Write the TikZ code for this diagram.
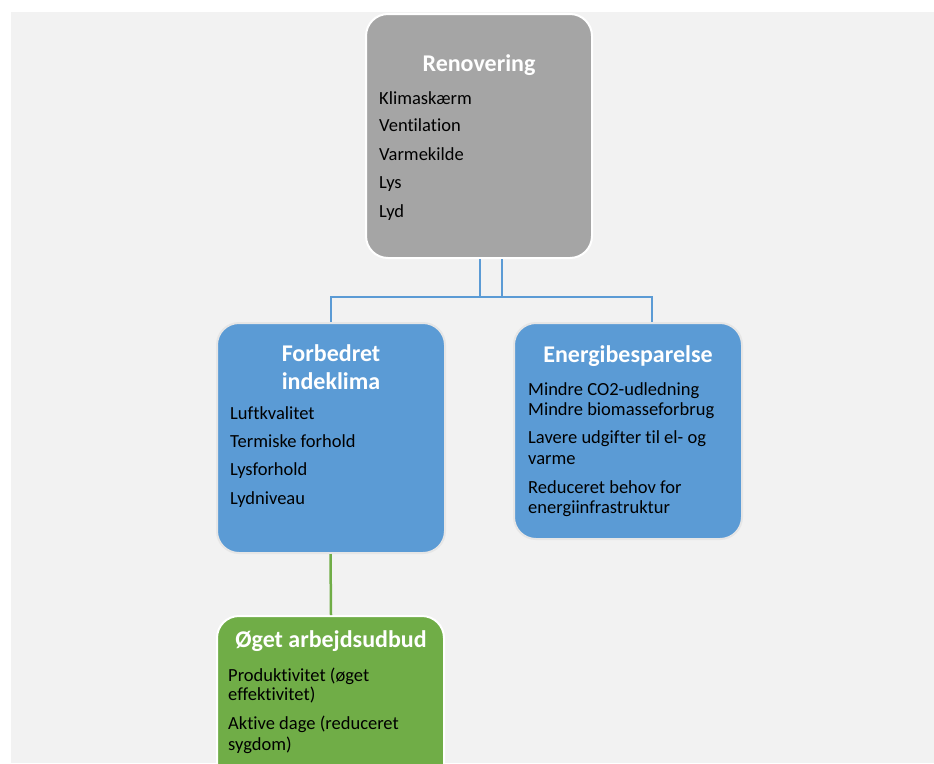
\documentclass[tikz,border=0pt]{standalone}
\usepackage{fontspec}
\setmainfont{Carlito}[Ligatures={NoCommon}]
\definecolor{bggray}{HTML}{F2F2F2}
\definecolor{boxgray}{HTML}{A5A5A5}
\definecolor{boxblue}{HTML}{5B9BD5}
\definecolor{boxgreen}{HTML}{70AD47}
\definecolor{blueedge}{HTML}{E6E6E6}
\tikzset{
  box/.style={rounded corners=22pt, line width=2pt, inner sep=0pt},
  title/.style={text=white, font=\bfseries\fontsize{24}{29}\selectfont, align=center, inner sep=0pt, yshift=-1.5pt},
  item/.style={anchor=mid west, text=black, font=\fontsize{18.5}{21}\selectfont, inner sep=0pt, yshift=-4pt},
  blueline/.style={draw=boxblue, line width=2.5pt},
  greenline/.style={draw=boxgreen, line width=2.5pt},
}
\begin{document}
\begin{tikzpicture}[x=1pt,y=-1pt]
\useasboundingbox (0,0) rectangle (934,763);
\clip (0,0) rectangle (934,763);
\fill[white] (0,0) rectangle (934,763);
\fill[bggray] (11,12) rectangle (934,763);

% boxes
\node[box, fill=boxgray, draw=white, minimum width=226pt, minimum height=244pt] (ren) at (479,136) {};
\node[box, fill=boxblue, draw=blueedge, minimum width=228pt, minimum height=230pt] (ind) at (331,438) {};
\node[box, fill=boxblue, draw=blueedge, minimum width=228pt, minimum height=216pt] (ene) at (628,431) {};
\node[box, fill=boxgreen, draw=white, minimum width=227pt, minimum height=170pt] (arb) at (330.5,701) {};

% connectors
\draw[blueline] ([xshift=23pt]ren.south) -- ++(0,38) -| (ind.north);
\draw[blueline] ([xshift=1pt]ren.south) -- ++(0,38) -| ([xshift=24pt]ene.north);
\draw[greenline] ([xshift=-0.5pt]ind.south) -- ([xshift=0.5pt]arb.north);

% Renovering
\node[title] (t1) at (479,64) {Renovering};
\node[item] (r1) at (379,98) {Klimaskærm};
\node[item] (r2) at (379,125) {Ventilation};
\node[item] (r3) at (379,154) {Varmekilde};
\node[item] (r4) at (379,182) {Lys};
\node[item] (r5) at (379,211) {Lyd};

% Forbedret indeklima
\node[title] (t2a) at (331,352) {Forbedret};
\node[title] (t2b) at (331,380) {indeklima};
\node[item] (i1) at (230,413) {Luftkvalitet};
\node[item] (i2) at (230,441) {Termiske forhold};
\node[item] (i3) at (230,469) {Lysforhold};
\node[item] (i4) at (230,498) {Lydniveau};

% Energibesparelse
\node[title] (t3) at (628,355) {Energibesparelse};
\node[item] (e1) at (528,389) {Mindre CO2-udledning};
\node[item] (e2) at (528,409) {Mindre biomasseforbrug};
\node[item] (e3) at (528,437) {Lavere udgifter til el- og};
\node[item] (e4) at (528,458) {varme};
\node[item] (e5) at (528,487) {Reduceret behov for};
\node[item] (e6) at (528,507) {energiinfrastruktur};

% Øget arbejdsudbud
\node[title] (t4) at (331,640) {Øget arbejdsudbud};
\node[item] (a1) at (228,675) {Produktivitet (øget};
\node[item] (a2) at (228,694) {effektivitet)};
\node[item] (a3) at (228,723) {Aktive dage (reduceret};
\node[item] (a4) at (228,744) {sygdom)};
\end{tikzpicture}
\end{document}
